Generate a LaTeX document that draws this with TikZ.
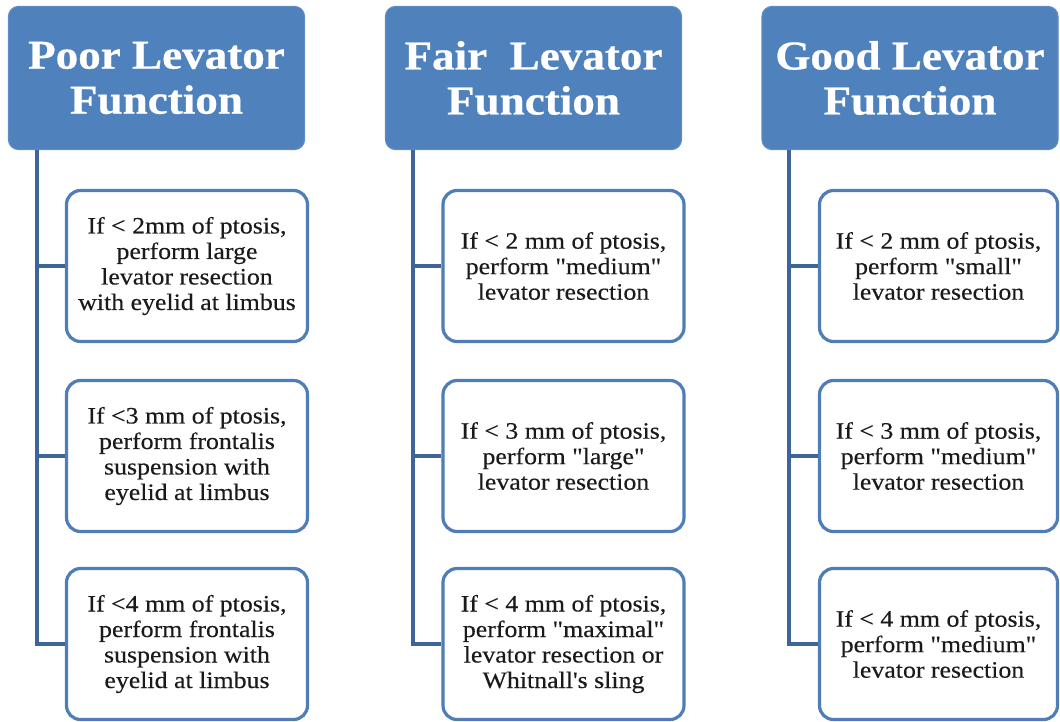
\documentclass[tikz,border=0pt]{standalone}
\usepackage{fontspec}
\setmainfont{Liberation Serif}[Ligatures=TeXOff]
\newfontfamily\hdrfont{Liberation Serif}[FakeStretch=1.1,FakeBold=0.6]
\newfontfamily\boxfont{Liberation Serif}[Ligatures=TeXOff,FakeStretch=1.1,FakeBold=0.3]
\definecolor{hdrfill}{HTML}{4F81BD}
\definecolor{hdrborder}{HTML}{5F8CC3}
\definecolor{boxborder}{HTML}{4F7DB8}
\definecolor{linkcol}{HTML}{3E6599}
\definecolor{txtcol}{HTML}{1A1A1A}
\begin{document}
\begin{tikzpicture}[x=1pt,y=-1pt,
  head/.style={draw=hdrborder, line width=1.2pt, fill=hdrfill, rounded corners=10pt,
    minimum width=296pt, minimum height=143pt, text=white, inner sep=0pt,
    font=\hdrfont\fontsize{41}{45}\selectfont\bfseries, align=center},
  child/.style={draw=boxborder, line width=3.2pt, fill=white, rounded corners=14pt,
    minimum height=151pt, text=txtcol, inner sep=0pt,
    font=\boxfont\fontsize{23.5}{25.5}\selectfont, align=center},
  link/.style={draw=linkcol, line width=3.4pt}]
\useasboundingbox (0,0) rectangle (1060,721);

% headers
\node[head] (h1) at (156.5,78) {Poor Levator\\Function};
\node[head] (h2) at (533.5,78) {Fair\ \ Levator\\Function};
\node[head] (h3) at (910,78) {Good Levator\\Function};

% children column 1
\node[child, minimum width=241pt] (a1) at (187,266) {If < 2mm of ptosis,\\perform large\\levator resection\\with eyelid at limbus};
\node[child, minimum width=241pt] (a2) at (187,456) {If <3 mm of ptosis,\\perform frontalis\\suspension with\\eyelid at limbus};
\node[child, minimum width=241pt] (a3) at (187,644) {If <4 mm of ptosis,\\perform frontalis\\suspension with\\eyelid at limbus};

% children column 2
\node[child, minimum width=241pt] (b1) at (563.5,266) {If < 2 mm of ptosis,\\perform "medium"\\levator resection};
\node[child, minimum width=241pt] (b2) at (563.5,456) {If < 3 mm of ptosis,\\perform "large"\\levator resection};
\node[child, minimum width=241pt] (b3) at (563.5,644) {If < 4 mm of ptosis,\\perform "maximal"\\levator resection or\\Whitnall's sling};

% children column 3
\node[child, minimum width=238pt] (c1) at (938.5,266) {If < 2 mm of ptosis,\\perform "small"\\levator resection};
\node[child, minimum width=238pt] (c2) at (938.5,456) {If < 3 mm of ptosis,\\perform "medium"\\levator resection};
\node[child, minimum width=238pt] (c3) at (938.5,644) {If < 4 mm of ptosis,\\perform "medium"\\levator resection};

% connectors
\coordinate (ta) at (37,150);
\coordinate (tb) at (413,150);
\coordinate (tc) at (789,150);
\path[link] (ta) |- (a1.west);
\path[link] (ta) |- (a2.west);
\path[link] (ta) |- (a3.west);
\path[link] (tb) |- (b1.west);
\path[link] (tb) |- (b2.west);
\path[link] (tb) |- (b3.west);
\path[link] (tc) |- (c1.west);
\path[link] (tc) |- (c2.west);
\path[link] (tc) |- (c3.west);
\end{tikzpicture}
\end{document}
